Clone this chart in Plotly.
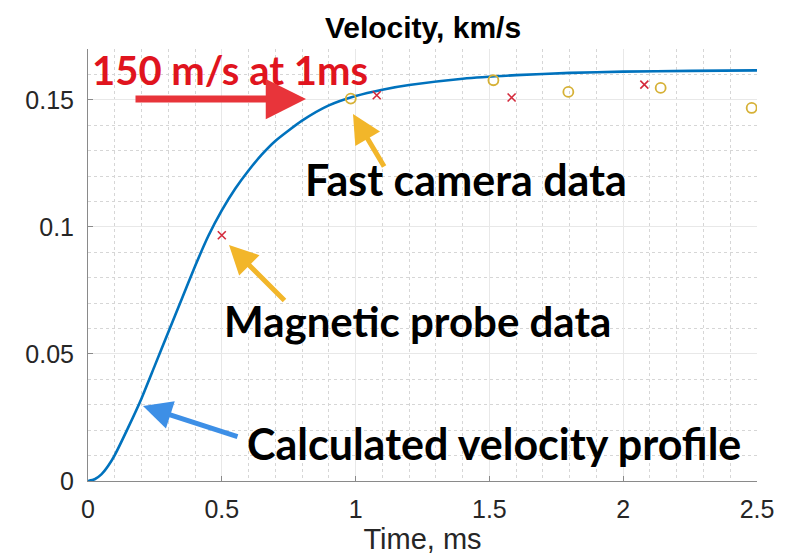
import plotly.graph_objects as go

# ---- data ----
curve_t = [0, 0.025, 0.05, 0.075, 0.1, 0.15, 0.2, 0.25, 0.3, 0.35, 0.4, 0.45, 0.5, 0.55, 0.6, 0.65,
           0.7, 0.8, 0.9, 1.0, 1.1, 1.2, 1.4, 1.6, 1.8, 2.0, 2.25, 2.5]
curve_v = [0, 0.0007, 0.0026, 0.0059, 0.0102, 0.021, 0.0325, 0.0455, 0.0585, 0.0715, 0.0845, 0.0965,
           0.1065, 0.115, 0.1222, 0.1285, 0.1338, 0.1418, 0.1478, 0.1515, 0.1540, 0.1558,
           0.1583, 0.1597, 0.1606, 0.1611, 0.1614, 0.1616]

camera_t = [0.982, 1.515, 1.795, 2.140, 2.480]
camera_v = [0.1505, 0.1577, 0.1531, 0.1547, 0.1468]

probe_t = [0.50, 1.079, 1.583, 2.079]
probe_v = [0.0967, 0.1518, 0.1509, 0.1560]

x_ticks = [0, 0.5, 1, 1.5, 2, 2.5]
x_ticklabels = ["0", "0.5", "1", "1.5", "2", "2.5"]
y_ticks = [0, 0.05, 0.1, 0.15]
y_ticklabels = ["0", "0.05", "0.1", "0.15"]

# ---- layout geometry (pixels) ----
W, H = 796, 558
L, R, T, B = 88, 39, 49, 77
PW, PH = W - L - R, H - T - B


def px(xp):
    return (xp - L) / PW


def py(yp):
    return (H - B - yp) / PH


fig = go.Figure()
fig.add_trace(go.Scatter(x=curve_t, y=curve_v, mode="lines",
                         line=dict(color="#0072BD", width=2.6, shape="spline", smoothing=0.6),
                         showlegend=False, hoverinfo="skip"))
fig.add_trace(go.Scatter(x=camera_t, y=camera_v, mode="markers",
                         marker=dict(symbol="circle-open", size=10, color="#D6B136", line=dict(width=1.8)),
                         showlegend=False))
fig.add_trace(go.Scatter(x=probe_t, y=probe_v, mode="markers",
                         marker=dict(symbol="x-thin-open", size=8, color="#D42A3C", line=dict(width=1.6)),
                         showlegend=False))

tick_font = dict(family="Liberation Sans, Arial", size=25, color="#262626")

fig.update_layout(
    width=W, height=H,
    margin=dict(l=L, r=R, t=T, b=B, autoexpand=False),
    paper_bgcolor="white", plot_bgcolor="white",
    title=dict(text="Velocity, km/s", x=px(423), xref="paper", xanchor="center",
               y=(H - 27) / H, yref="container", yanchor="middle",
               font=dict(family="Liberation Sans, Arial", size=30, color="black", weight="bold")),
    xaxis=dict(range=[0, 2.5], tickvals=x_ticks, ticktext=x_ticklabels, tickfont=tick_font,
               showgrid=True, gridcolor="#e8e8e8", gridwidth=1,
               minor=dict(dtick=0.1, showgrid=True, gridcolor="#d6d6d6", griddash="dot", gridwidth=1),
               showline=True, linecolor="#8a8a8a", linewidth=1,
               ticks="inside", ticklen=5, tickcolor="#8a8a8a",
               zeroline=False, ticklabelstandoff=6, automargin=False,
               title=dict(text="Time, ms", font=dict(family="Liberation Sans, Arial", size=29, color="#262626"),
                          standoff=5)),
    yaxis=dict(range=[0, 0.17], tickvals=y_ticks, ticktext=y_ticklabels, tickfont=tick_font,
               showgrid=True, gridcolor="#e8e8e8", gridwidth=1,
               minor=dict(dtick=0.01, showgrid=True, gridcolor="#d6d6d6", griddash="dot", gridwidth=1),
               showline=True, linecolor="#8a8a8a", linewidth=1,
               ticks="inside", ticklen=5, tickcolor="#8a8a8a",
               zeroline=False, ticklabelstandoff=8, automargin=False),
)

ann_font = "Lato, Open Sans, sans-serif"
annotations = [
    # red headline
    dict(text="150 m/s at 1ms", xref="paper", yref="paper", x=px(90), y=py(70), xanchor="left", yanchor="middle",
         showarrow=False, font=dict(family=ann_font, size=40, color="#E0141E", weight="bold")),
    dict(text="Fast camera data", xref="paper", yref="paper", x=px(303), y=py(179), xanchor="left", yanchor="middle",
         showarrow=False, font=dict(family=ann_font, size=43, color="black", weight="bold")),
    dict(text="Magnetic probe data", xref="paper", yref="paper", x=px(222), y=py(321), xanchor="left", yanchor="middle",
         showarrow=False, font=dict(family=ann_font, size=42, color="black", weight="bold")),
    dict(text="Calculated velocity profile", xref="paper", yref="paper", x=px(245), y=py(443), xanchor="left",
         yanchor="middle", showarrow=False, font=dict(family=ann_font, size=43, color="black", weight="bold")),
    # arrows
    dict(text="", xref="paper", yref="paper", x=px(306), y=py(99), ax=-172, ay=0, showarrow=True,
         arrowhead=2, arrowsize=1.15, arrowwidth=7, arrowcolor="#E8343A"),
    dict(text="", xref="paper", yref="paper", x=px(353), y=py(114), ax=32, ay=54, showarrow=True,
         arrowhead=2, arrowsize=1.15, arrowwidth=5, arrowcolor="#F2B62A"),
    dict(text="", xref="paper", yref="paper", x=px(229), y=py(245), ax=57, ay=57, showarrow=True,
         arrowhead=2, arrowsize=1.15, arrowwidth=5, arrowcolor="#F2B62A"),
    dict(text="", xref="paper", yref="paper", x=px(143), y=py(406), ax=96, ay=31, showarrow=True,
         arrowhead=2, arrowsize=1.15, arrowwidth=5, arrowcolor="#3D8FE6"),
]
fig.update_layout(annotations=annotations)

fig.write_html("out.html")
